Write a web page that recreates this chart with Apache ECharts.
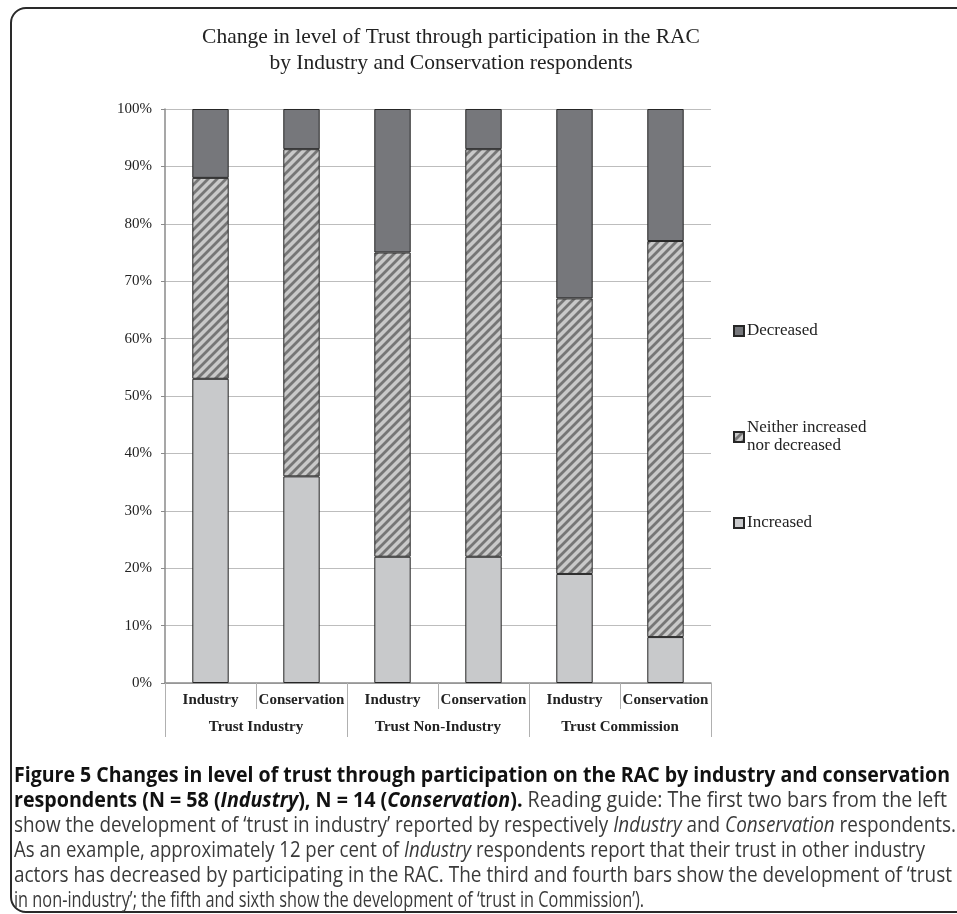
<!DOCTYPE html>
<html>
<head>
<meta charset="utf-8">
<script src="https://cdn.jsdelivr.net/npm/echarts@6/dist/echarts.min.js"></script>
<style>
  html, body { margin:0; padding:0; background:#fff; overflow:hidden; }
  #frame { position:absolute; left:10px; top:7px; right:-30px; height:906px; border:2px solid #2a2a2a; border-radius:16px; box-sizing:border-box; }
  #chart { position:absolute; left:0; top:0; width:957px; height:914px; }
  .cap { position:absolute; left:14px; white-space:nowrap; font-family:"Open Sans","Liberation Sans",sans-serif; font-size:21px; color:#3a3a3a; transform-origin:0 50%; line-height:26px; }
  .cap b { color:#111; font-weight:700; }
</style>
</head>
<body>
<div id="frame"></div>
<div id="chart"></div>
<div class="cap" data-w="936" style="top:761px"><b>Figure 5 Changes in level of trust through participation on the RAC by industry and conservation</b></div>
<div class="cap" data-w="933" style="top:786px"><b>respondents (N = 58 (<i>Industry</i>), N = 14 (<i>Conservation</i>).</b> Reading guide: The first two bars from the left</div>
<div class="cap" data-w="942" style="top:811px">show the development of ‘trust in industry’ reported by respectively <i>Industry</i> and <i>Conservation</i> respondents.</div>
<div class="cap" data-w="911" style="top:836px">As an example, approximately 12 per cent of <i>Industry</i> respondents report that their trust in other industry</div>
<div class="cap" data-w="938" style="top:861px">actors has decreased by participating in the RAC. The third and fourth bars show the development of ‘trust</div>
<div class="cap" data-w="630" style="top:886px">in non-industry’; the fifth and sixth show the development of ‘trust in Commission’).</div>
<script>
const categories = ['Industry', 'Conservation', 'Industry', 'Conservation', 'Industry', 'Conservation'];
const groups = ['Trust Industry', 'Trust Non-Industry', 'Trust Commission'];
const increased = [53, 36, 22, 22, 19, 8];
const neither = [35, 57, 53, 71, 48, 69];
const decreased = [12, 7, 25, 7, 33, 23];
const seriesNames = ['Increased', 'Neither increased nor decreased', 'Decreased'];
const titleLines = ['Change in level of Trust through participation in the RAC', 'by Industry and Conservation respondents'];

// caption line fitting
document.querySelectorAll('.cap').forEach(function (el) {
  const target = +el.getAttribute('data-w');
  const s = target / el.getBoundingClientRect().width;
  el.style.transform = 'scaleX(' + s + ')';
});

// hatch pattern
const tile = 9;
const cv = document.createElement('canvas');
cv.width = tile; cv.height = tile;
const ctx = cv.getContext('2d');
ctx.fillStyle = '#c9c9c9';
ctx.fillRect(0, 0, tile, tile);
ctx.strokeStyle = '#767676';
ctx.lineWidth = 2.8;
ctx.beginPath();
ctx.moveTo(0, tile); ctx.lineTo(tile, 0);
ctx.moveTo(-tile, tile); ctx.lineTo(tile, -tile);
ctx.moveTo(0, 2 * tile); ctx.lineTo(2 * tile, 0);
ctx.stroke();

const serif = '"Liberation Serif", "DejaVu Serif", serif';
const chart = echarts.init(document.getElementById('chart'), null, { renderer: 'canvas' });
const barBorder = { borderColor: '#262626', borderWidth: 1 };

function legendFor(name, top) {
  return {
    data: [name], orient: 'vertical', left: 733, top: top, padding: 0,
    icon: 'rect', itemWidth: 10, itemHeight: 10, itemGap: 0, selectedMode: false,
    formatter: function (n) { return n === seriesNames[1] ? 'Neither increased\nnor decreased' : n; },
    textStyle: { fontFamily: serif, fontSize: 17, color: '#222', lineHeight: 18, padding: [0, 0, 0, -2] }
  };
}

chart.setOption({
  animation: false,
  title: {
    text: titleLines.join('\n'), left: 446, top: 19, textAlign: 'center',
    textStyle: { fontFamily: serif, fontSize: 21.5, fontWeight: 'normal', color: '#222', lineHeight: 26 }
  },
  legend: [legendFor(seriesNames[2], 322), legendFor(seriesNames[1], 419), legendFor(seriesNames[0], 514)],
  grid: { left: 165, right: 246, top: 109, bottom: 231, containLabel: false },
  xAxis: [
    {
      type: 'category', data: categories, position: 'bottom',
      axisLine: { show: true, lineStyle: { color: '#8a8a8a', width: 1.5 } },
      axisTick: { show: true, interval: 0, length: 26, lineStyle: { color: '#b0b0b0' } },
      axisLabel: { interval: 0, margin: 10, fontFamily: serif, fontSize: 15, fontWeight: 'bold', color: '#222' }
    },
    {
      type: 'category', data: groups, position: 'bottom', offset: 0,
      axisLine: { show: false },
      axisTick: { show: true, interval: 0, length: 54, lineStyle: { color: '#b0b0b0' } },
      axisLabel: { interval: 0, margin: 37, fontFamily: serif, fontSize: 15, fontWeight: 'bold', color: '#222' }
    }
  ],
  yAxis: {
    type: 'value', min: 0, max: 100, interval: 10,
    axisLine: { show: true, lineStyle: { color: '#8a8a8a', width: 1.5 } },
    axisTick: { show: true, length: 4, lineStyle: { color: '#8a8a8a' } },
    axisLabel: { formatter: '{value}%', margin: 13, fontFamily: serif, fontSize: 15, color: '#222' },
    splitLine: { show: true, lineStyle: { color: '#bdbdbd', width: 1.2 } }
  },
  series: [
    { name: seriesNames[0], type: 'bar', stack: 's', barWidth: '40%', data: increased,
      itemStyle: Object.assign({ color: '#c8c9cb' }, barBorder) },
    { name: seriesNames[1], type: 'bar', stack: 's', barWidth: '40%', data: neither,
      itemStyle: Object.assign({ color: { image: cv, repeat: 'repeat' } }, barBorder) },
    { name: seriesNames[2], type: 'bar', stack: 's', barWidth: '40%', data: decreased,
      itemStyle: Object.assign({ color: '#76777b' }, barBorder) }
  ]
});
</script>
</body>
</html>
